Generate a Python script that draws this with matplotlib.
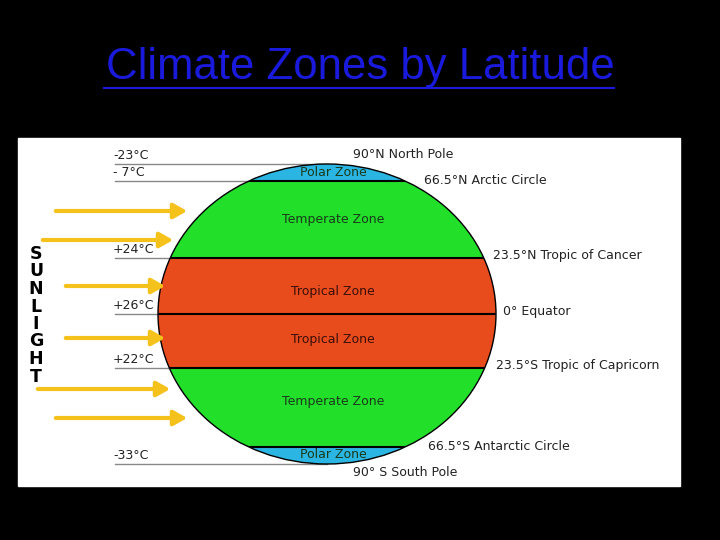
import matplotlib.pyplot as plt
from matplotlib.patches import Ellipse, Rectangle

# band boundaries (pixel rows in the picture), top to bottom
band_edges = [164, 181, 258, 314, 368, 447, 464]
band_colors = ["#2bb5e3", "#22e02a", "#e84b1c", "#e84b1c", "#22e02a", "#2bb5e3"]
zone_names = ["Polar Zone", "Temperate Zone", "Tropical Zone", "Tropical Zone", "Temperate Zone", "Polar Zone"]
zone_label_y = [172, 220, 292, 339, 402, 455]

temp_labels = ["-23°C", "- 7°C", "+24°C", "+26°C", "+22°C", "-33°C"]
temp_y = [164, 181, 258, 314, 368, 464]

lat_labels = ["90°N North Pole", "66.5°N Arctic Circle", "23.5°N Tropic of Cancer",
              "0° Equator", "23.5°S Tropic of Capricorn", "66.5°S Antarctic Circle",
              "90° S South Pole"]
lat_x = [353, 424, 493, 503, 496, 428, 353]
lat_y = [155, 180, 256, 312, 366, 446, 473]

arrow_y = [211, 240, 286, 338, 389, 418]
arrow_x0 = [53, 40, 63, 63, 35, 53]
arrow_x1 = [190, 176, 168, 168, 173, 190]

cx, cy, a, b = 327, 314, 169, 150

fig = plt.figure(figsize=(7.2, 5.4), dpi=100, facecolor="black")
ax = fig.add_axes([0, 0, 1, 1])
ax.set_xlim(0, 720)
ax.set_ylim(540, 0)
ax.axis("off")

fig.text(0.5, 1 - 68 / 540, "Climate Zones by Latitude", color="#1a1adc",
         fontsize=31.5, family="Liberation Sans", ha="center", va="center")
ax.plot([104, 614], [88, 88], color="#1a1adc", lw=1.5)

ax.add_patch(Rectangle((18, 138), 662, 348, color="white", zorder=1))

clip = Ellipse((cx, cy), 2 * a, 2 * b, transform=ax.transData)
for i, col in enumerate(band_colors):
    r = Rectangle((cx - a, band_edges[i]), 2 * a, band_edges[i + 1] - band_edges[i],
                  color=col, zorder=2)
    ax.add_patch(r)
    r.set_clip_path(clip)
    ax.text(cx + 6, zone_label_y[i], zone_names[i], fontsize=9,
            color="#1a3a1a" if "Tropical" not in zone_names[i] else "#3a1008",
            ha="center", va="center", zorder=5)
ax.add_patch(Ellipse((cx, cy), 2 * a, 2 * b, fill=False, ec="black", lw=1, zorder=4))

for y in band_edges[1:-1]:
    ln, = ax.plot([cx - a, cx + a], [y, y], color="black", lw=1.5, zorder=3)
    ln.set_clip_path(clip)

for lab, y in zip(temp_labels, temp_y):
    ax.plot([115, cx], [y, y], color="#888888", lw=1, zorder=1.5)
    ax.text(113, y - 2, lab, fontsize=9, color="#222222", ha="left", va="bottom", zorder=5)

for lab, x, y in zip(lat_labels, lat_x, lat_y):
    ax.text(x, y, lab, fontsize=9, color="#222222", ha="left", va="center", zorder=5)

for y, x0, x1 in zip(arrow_y, arrow_x0, arrow_x1):
    ax.annotate("", xy=(x1, y), xytext=(x0, y), zorder=6,
                arrowprops=dict(arrowstyle="-|>,head_length=0.8,head_width=0.45",
                                color="#f5c21b", lw=3))

for i, ch in enumerate("SUNLIGHT"):
    ax.text(36, 254 + i * 17.5, ch, fontsize=12.5, fontweight="bold", color="black",
            ha="center", va="center", zorder=5)

fig.savefig("out.png", dpi=100, facecolor="black")
